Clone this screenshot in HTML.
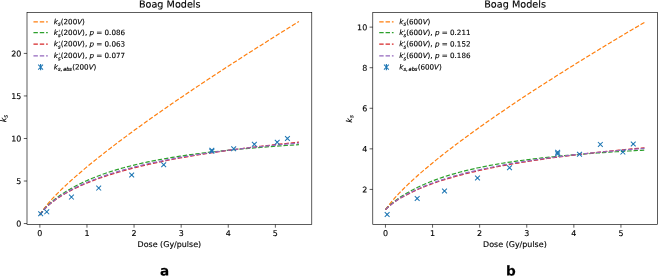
<!DOCTYPE html>
<html><head><meta charset="utf-8"><title>Boag Models</title>
<style>
html,body{margin:0;padding:0;background:#fff;}
svg{display:block;}
svg text{font-family:"DejaVu Sans","Liberation Sans",sans-serif;fill:#000;white-space:pre;text-rendering:geometricPrecision;stroke:#000;stroke-width:0.13px;}
</style></head><body>
<svg width="658" height="276" viewBox="0 0 658 276">
<rect width="658" height="276" fill="#fff"/>
<polyline points="39.91,214.96 40.11,214.60 40.47,213.96 40.94,213.17 41.50,212.28 42.14,211.32 42.84,210.30 43.60,209.23 44.42,208.13 45.29,207.00 46.22,205.84 47.19,204.65 48.20,203.44 49.26,202.21 50.36,200.96 51.50,199.70 52.68,198.41 53.89,197.12 55.14,195.81 56.43,194.48 57.75,193.14 59.11,191.79 60.50,190.42 61.91,189.04 63.37,187.66 64.85,186.26 66.36,184.84 67.90,183.42 69.47,181.99 71.07,180.55 72.69,179.09 74.34,177.63 76.02,176.16 77.73,174.67 79.46,173.18 81.22,171.68 83.00,170.17 84.81,168.65 86.64,167.13 88.50,165.59 90.38,164.05 92.29,162.49 94.21,160.93 96.17,159.36 98.14,157.79 100.14,156.20 102.15,154.61 104.20,153.01 106.26,151.40 108.34,149.79 110.45,148.16 112.57,146.53 114.72,144.90 116.89,143.25 119.08,141.60 121.29,139.94 123.52,138.28 125.77,136.61 128.04,134.93 130.33,133.24 132.64,131.55 134.96,129.85 137.31,128.14 139.68,126.43 142.06,124.71 144.46,122.99 146.89,121.26 149.33,119.52 151.79,117.78 154.26,116.03 156.76,114.27 159.27,112.51 161.80,110.74 164.35,108.97 166.92,107.19 169.50,105.40 172.10,103.61 174.72,101.81 177.35,100.01 180.00,98.20 182.67,96.39 185.36,94.57 188.06,92.74 190.78,90.91 193.51,89.07 196.26,87.23 199.03,85.38 201.81,83.53 204.61,81.67 207.43,79.81 210.26,77.94 213.11,76.07 215.97,74.19 218.85,72.30 221.74,70.41 224.65,68.52 227.58,66.62 230.52,64.71 233.47,62.80 236.44,60.89 239.43,58.97 242.43,57.04 245.44,55.11 248.47,53.18 251.52,51.24 254.58,49.29 257.65,47.34 260.74,45.39 263.84,43.43 266.96,41.47 270.09,39.50 273.24,37.53 276.40,35.55 279.57,33.57 282.76,31.58 285.96,29.59 289.18,27.59 292.41,25.59 295.65,23.59 298.91,21.58" fill="none" stroke="#ff7f0e" stroke-width="1.19" stroke-dasharray="4.42 1.91"/>
<polyline points="39.91,214.96 40.11,214.64 40.47,214.06 40.94,213.35 41.50,212.55 42.14,211.69 42.84,210.79 43.60,209.86 44.42,208.91 45.29,207.94 46.22,206.96 47.19,205.98 48.20,204.98 49.26,203.98 50.36,202.98 51.50,201.98 52.68,200.99 53.89,199.99 55.14,199.00 56.43,198.01 57.75,197.02 59.11,196.04 60.50,195.07 61.91,194.10 63.37,193.14 64.85,192.19 66.36,191.25 67.90,190.31 69.47,189.39 71.07,188.47 72.69,187.56 74.34,186.66 76.02,185.78 77.73,184.90 79.46,184.03 81.22,183.18 83.00,182.33 84.81,181.49 86.64,180.67 88.50,179.86 90.38,179.06 92.29,178.26 94.21,177.49 96.17,176.72 98.14,175.96 100.14,175.22 102.15,174.48 104.20,173.76 106.26,173.05 108.34,172.35 110.45,171.66 112.57,170.99 114.72,170.32 116.89,169.67 119.08,169.03 121.29,168.39 123.52,167.77 125.77,167.16 128.04,166.56 130.33,165.97 132.64,165.39 134.96,164.83 137.31,164.27 139.68,163.72 142.06,163.18 144.46,162.65 146.89,162.13 149.33,161.62 151.79,161.12 154.26,160.63 156.76,160.15 159.27,159.68 161.80,159.22 164.35,158.76 166.92,158.31 169.50,157.87 172.10,157.44 174.72,157.02 177.35,156.61 180.00,156.20 182.67,155.80 185.36,155.41 188.06,155.02 190.78,154.64 193.51,154.27 196.26,153.91 199.03,153.55 201.81,153.20 204.61,152.85 207.43,152.51 210.26,152.18 213.11,151.85 215.97,151.53 218.85,151.22 221.74,150.91 224.65,150.60 227.58,150.30 230.52,150.01 233.47,149.72 236.44,149.44 239.43,149.16 242.43,148.89 245.44,148.62 248.47,148.35 251.52,148.09 254.58,147.84 257.65,147.59 260.74,147.34 263.84,147.10 266.96,146.86 270.09,146.62 273.24,146.39 276.40,146.16 279.57,145.94 282.76,145.72 285.96,145.50 289.18,145.29 292.41,145.08 295.65,144.88 298.91,144.67" fill="none" stroke="#2ca02c" stroke-width="1.19" stroke-dasharray="4.42 1.91"/>
<polyline points="39.91,214.97 40.11,214.65 40.47,214.10 40.94,213.42 41.50,212.65 42.14,211.84 42.84,210.99 43.60,210.11 44.42,209.21 45.29,208.30 46.22,207.38 47.19,206.45 48.20,205.53 49.26,204.60 50.36,203.67 51.50,202.75 52.68,201.82 53.89,200.91 55.14,199.99 56.43,199.08 57.75,198.18 59.11,197.29 60.50,196.39 61.91,195.51 63.37,194.64 64.85,193.77 66.36,192.90 67.90,192.05 69.47,191.20 71.07,190.37 72.69,189.53 74.34,188.71 76.02,187.90 77.73,187.09 79.46,186.29 81.22,185.50 83.00,184.72 84.81,183.95 86.64,183.18 88.50,182.42 90.38,181.67 92.29,180.93 94.21,180.19 96.17,179.47 98.14,178.75 100.14,178.04 102.15,177.34 104.20,176.64 106.26,175.95 108.34,175.27 110.45,174.60 112.57,173.94 114.72,173.28 116.89,172.63 119.08,171.98 121.29,171.35 123.52,170.72 125.77,170.10 128.04,169.48 130.33,168.87 132.64,168.27 134.96,167.68 137.31,167.09 139.68,166.51 142.06,165.93 144.46,165.36 146.89,164.80 149.33,164.24 151.79,163.69 154.26,163.15 156.76,162.61 159.27,162.08 161.80,161.55 164.35,161.03 166.92,160.51 169.50,160.00 172.10,159.50 174.72,159.00 177.35,158.51 180.00,158.02 182.67,157.54 185.36,157.06 188.06,156.59 190.78,156.12 193.51,155.66 196.26,155.20 199.03,154.75 201.81,154.30 204.61,153.86 207.43,153.42 210.26,152.99 213.11,152.56 215.97,152.13 218.85,151.71 221.74,151.30 224.65,150.89 227.58,150.48 230.52,150.08 233.47,149.68 236.44,149.28 239.43,148.89 242.43,148.51 245.44,148.12 248.47,147.75 251.52,147.37 254.58,147.00 257.65,146.63 260.74,146.27 263.84,145.91 266.96,145.55 270.09,145.20 273.24,144.85 276.40,144.51 279.57,144.16 282.76,143.83 285.96,143.49 289.18,143.16 292.41,142.83 295.65,142.50 298.91,142.18" fill="none" stroke="#d62728" stroke-width="1.19" stroke-dasharray="4.42 1.91"/>
<polyline points="39.91,214.97 40.11,214.65 40.47,214.09 40.94,213.40 41.50,212.63 42.14,211.80 42.84,210.94 43.60,210.05 44.42,209.14 45.29,208.21 46.22,207.28 47.19,206.34 48.20,205.39 49.26,204.45 50.36,203.50 51.50,202.56 52.68,201.62 53.89,200.68 55.14,199.75 56.43,198.82 57.75,197.90 59.11,196.98 60.50,196.07 61.91,195.17 63.37,194.27 64.85,193.38 66.36,192.50 67.90,191.62 69.47,190.75 71.07,189.89 72.69,189.04 74.34,188.20 76.02,187.36 77.73,186.54 79.46,185.72 81.22,184.91 83.00,184.11 84.81,183.32 86.64,182.54 88.50,181.76 90.38,180.99 92.29,180.24 94.21,179.49 96.17,178.75 98.14,178.02 100.14,177.29 102.15,176.58 104.20,175.87 106.26,175.17 108.34,174.48 110.45,173.80 112.57,173.13 114.72,172.47 116.89,171.81 119.08,171.16 121.29,170.52 123.52,169.89 125.77,169.27 128.04,168.65 130.33,168.04 132.64,167.44 134.96,166.85 137.31,166.26 139.68,165.68 142.06,165.11 144.46,164.55 146.89,163.99 149.33,163.45 151.79,162.91 154.26,162.37 156.76,161.84 159.27,161.32 161.80,160.81 164.35,160.30 166.92,159.80 169.50,159.31 172.10,158.82 174.72,158.34 177.35,157.87 180.00,157.40 182.67,156.94 185.36,156.49 188.06,156.04 190.78,155.60 193.51,155.16 196.26,154.73 199.03,154.30 201.81,153.88 204.61,153.47 207.43,153.06 210.26,152.66 213.11,152.26 215.97,151.87 218.85,151.48 221.74,151.10 224.65,150.73 227.58,150.36 230.52,149.99 233.47,149.63 236.44,149.27 239.43,148.92 242.43,148.57 245.44,148.23 248.47,147.89 251.52,147.56 254.58,147.23 257.65,146.91 260.74,146.59 263.84,146.27 266.96,145.96 270.09,145.66 273.24,145.35 276.40,145.06 279.57,144.76 282.76,144.47 285.96,144.18 289.18,143.90 292.41,143.62 295.65,143.34 298.91,143.07" fill="none" stroke="#9467bd" stroke-width="1.19" stroke-dasharray="4.42 1.91"/>
<line x1="40.65" y1="213.00" x2="40.65" y2="214.40" stroke="#1f77b4" stroke-width="1.19"/>
<path d="M38.25 211.30l4.80 4.80m0 -4.80l-4.80 4.80" stroke="#1f77b4" stroke-width="1.05" fill="none"/>
<line x1="46.75" y1="211.15" x2="46.75" y2="212.55" stroke="#1f77b4" stroke-width="1.19"/>
<path d="M44.35 209.45l4.80 4.80m0 -4.80l-4.80 4.80" stroke="#1f77b4" stroke-width="1.05" fill="none"/>
<line x1="71.45" y1="196.40" x2="71.45" y2="197.80" stroke="#1f77b4" stroke-width="1.19"/>
<path d="M69.05 194.70l4.80 4.80m0 -4.80l-4.80 4.80" stroke="#1f77b4" stroke-width="1.05" fill="none"/>
<line x1="98.70" y1="187.40" x2="98.70" y2="188.80" stroke="#1f77b4" stroke-width="1.19"/>
<path d="M96.30 185.70l4.80 4.80m0 -4.80l-4.80 4.80" stroke="#1f77b4" stroke-width="1.05" fill="none"/>
<line x1="131.70" y1="174.25" x2="131.70" y2="175.65" stroke="#1f77b4" stroke-width="1.19"/>
<path d="M129.30 172.55l4.80 4.80m0 -4.80l-4.80 4.80" stroke="#1f77b4" stroke-width="1.05" fill="none"/>
<line x1="163.70" y1="164.10" x2="163.70" y2="165.50" stroke="#1f77b4" stroke-width="1.19"/>
<path d="M161.30 162.40l4.80 4.80m0 -4.80l-4.80 4.80" stroke="#1f77b4" stroke-width="1.05" fill="none"/>
<line x1="211.85" y1="149.60" x2="211.85" y2="151.00" stroke="#1f77b4" stroke-width="1.19"/>
<path d="M209.45 147.90l4.80 4.80m0 -4.80l-4.80 4.80" stroke="#1f77b4" stroke-width="1.05" fill="none"/>
<line x1="211.85" y1="150.60" x2="211.85" y2="152.00" stroke="#1f77b4" stroke-width="1.19"/>
<path d="M209.45 148.90l4.80 4.80m0 -4.80l-4.80 4.80" stroke="#1f77b4" stroke-width="1.05" fill="none"/>
<line x1="233.70" y1="148.00" x2="233.70" y2="149.40" stroke="#1f77b4" stroke-width="1.19"/>
<path d="M231.30 146.30l4.80 4.80m0 -4.80l-4.80 4.80" stroke="#1f77b4" stroke-width="1.05" fill="none"/>
<line x1="254.35" y1="143.60" x2="254.35" y2="145.00" stroke="#1f77b4" stroke-width="1.19"/>
<path d="M251.95 141.90l4.80 4.80m0 -4.80l-4.80 4.80" stroke="#1f77b4" stroke-width="1.05" fill="none"/>
<line x1="277.20" y1="141.60" x2="277.20" y2="143.00" stroke="#1f77b4" stroke-width="1.19"/>
<path d="M274.80 139.90l4.80 4.80m0 -4.80l-4.80 4.80" stroke="#1f77b4" stroke-width="1.05" fill="none"/>
<line x1="287.45" y1="137.80" x2="287.45" y2="139.20" stroke="#1f77b4" stroke-width="1.19"/>
<path d="M285.05 136.10l4.80 4.80m0 -4.80l-4.80 4.80" stroke="#1f77b4" stroke-width="1.05" fill="none"/>
<rect x="27.00" y="12.50" width="284.78" height="212.00" fill="none" stroke="#000" stroke-width="0.64"/>
<line x1="39.86" y1="224.50" x2="39.86" y2="227.70" stroke="#000" stroke-width="0.64"/>
<text transform="translate(39.86 235.97) rotate(0.05)" font-size="7.96" text-anchor="middle">0</text>
<line x1="86.96" y1="224.50" x2="86.96" y2="227.70" stroke="#000" stroke-width="0.64"/>
<text transform="translate(86.96 235.97) rotate(0.05)" font-size="7.96" text-anchor="middle">1</text>
<line x1="134.06" y1="224.50" x2="134.06" y2="227.70" stroke="#000" stroke-width="0.64"/>
<text transform="translate(134.06 235.97) rotate(0.05)" font-size="7.96" text-anchor="middle">2</text>
<line x1="181.16" y1="224.50" x2="181.16" y2="227.70" stroke="#000" stroke-width="0.64"/>
<text transform="translate(181.16 235.97) rotate(0.05)" font-size="7.96" text-anchor="middle">3</text>
<line x1="228.26" y1="224.50" x2="228.26" y2="227.70" stroke="#000" stroke-width="0.64"/>
<text transform="translate(228.26 235.97) rotate(0.05)" font-size="7.96" text-anchor="middle">4</text>
<line x1="275.36" y1="224.50" x2="275.36" y2="227.70" stroke="#000" stroke-width="0.64"/>
<text transform="translate(275.36 235.97) rotate(0.05)" font-size="7.96" text-anchor="middle">5</text>
<line x1="23.80" y1="223.55" x2="27.00" y2="223.55" stroke="#000" stroke-width="0.64"/>
<text transform="translate(21.43 226.57) rotate(0.05)" font-size="7.96" text-anchor="end">0</text>
<line x1="23.80" y1="181.02" x2="27.00" y2="181.02" stroke="#000" stroke-width="0.64"/>
<text transform="translate(21.43 184.04) rotate(0.05)" font-size="7.96" text-anchor="end">5</text>
<line x1="23.80" y1="138.49" x2="27.00" y2="138.49" stroke="#000" stroke-width="0.64"/>
<text transform="translate(21.43 141.51) rotate(0.05)" font-size="7.96" text-anchor="end">10</text>
<line x1="23.80" y1="95.95" x2="27.00" y2="95.95" stroke="#000" stroke-width="0.64"/>
<text transform="translate(21.43 98.98) rotate(0.05)" font-size="7.96" text-anchor="end">15</text>
<line x1="23.80" y1="53.42" x2="27.00" y2="53.42" stroke="#000" stroke-width="0.64"/>
<text transform="translate(21.43 56.44) rotate(0.05)" font-size="7.96" text-anchor="end">20</text>
<text transform="translate(169.74 7.53) rotate(0.05)" font-size="9.66" text-anchor="middle">Boag Models</text>
<text transform="translate(169.39 247.00) rotate(0.05)" font-size="7.96" text-anchor="middle">Dose (Gy/pulse)</text>
<g transform="translate(6.46 122.29) rotate(-89.95)"><text font-style="oblique"><tspan x="0" y="-0.32" font-size="7.96">k</tspan><tspan x="4.61" y="0.98" font-size="5.57">s</tspan></text></g>
<rect x="30.58" y="16.08" width="97.09" height="57.21" rx="1.43" fill="#fff" fill-opacity="0.8" stroke="#ccc" stroke-opacity="0.00" stroke-width="0.80"/>
<line x1="33.45" y1="21.83" x2="47.77" y2="21.83" stroke="#ff7f0e" stroke-width="1.19" stroke-dasharray="4.42 1.91"/>
<g transform="translate(53.80 24.24) rotate(0.05)"><text font-size="7.16"><tspan x="0.00" y="-0.12" font-style="oblique">k</tspan><tspan x="4.15" y="1.30" font-size="5.01" font-style="oblique" stroke-width="0.22">s</tspan><tspan x="6.96" y="-0.12">(200</tspan><tspan x="23.42" y="-0.12" font-style="oblique">V</tspan><tspan x="28.32" y="-0.12">)</tspan></text></g>
<line x1="33.45" y1="32.69" x2="47.77" y2="32.69" stroke="#2ca02c" stroke-width="1.19" stroke-dasharray="4.42 1.91"/>
<g transform="translate(53.80 34.93) rotate(0.05)"><text font-size="7.16"><tspan x="0.00" y="-0.03" font-style="oblique">k</tspan><tspan x="4.15" y="2.18" font-size="5.01" font-style="oblique" stroke-width="0.22">s</tspan><tspan stroke="none" fill-opacity="0.85" x="4.42" y="-0.03" font-size="7.16" font-style="oblique">'</tspan><tspan x="6.96" y="-0.03">(200</tspan><tspan x="23.42" y="-0.03" font-style="oblique">V</tspan><tspan x="28.32" y="-0.03">),</tspan><tspan x="35.67" y="-0.03" font-style="oblique">p</tspan><tspan x="42.49" y="-0.03">=</tspan><tspan x="50.77" y="-0.03">0.086</tspan></text></g>
<line x1="33.45" y1="44.13" x2="47.77" y2="44.13" stroke="#d62728" stroke-width="1.19" stroke-dasharray="4.42 1.91"/>
<g transform="translate(53.80 46.36) rotate(0.05)"><text font-size="7.16"><tspan x="0.00" y="-0.03" font-style="oblique">k</tspan><tspan x="4.15" y="2.18" font-size="5.01" font-style="oblique" stroke-width="0.22">s</tspan><tspan stroke="none" fill-opacity="0.85" x="4.42" y="-0.03" font-size="7.16" font-style="oblique">'</tspan><tspan x="6.96" y="-0.03">(200</tspan><tspan x="23.42" y="-0.03" font-style="oblique">V</tspan><tspan x="28.32" y="-0.03">),</tspan><tspan x="35.67" y="-0.03" font-style="oblique">p</tspan><tspan x="42.49" y="-0.03">=</tspan><tspan x="50.77" y="-0.03">0.063</tspan></text></g>
<line x1="33.45" y1="55.78" x2="47.77" y2="55.78" stroke="#9467bd" stroke-width="1.19" stroke-dasharray="4.42 1.91"/>
<g transform="translate(53.80 58.03) rotate(0.05)"><text font-size="7.16"><tspan x="0.00" y="-0.03" font-style="oblique">k</tspan><tspan x="4.15" y="2.18" font-size="5.01" font-style="oblique" stroke-width="0.22">s</tspan><tspan stroke="none" fill-opacity="0.85" x="4.42" y="-0.03" font-size="7.16" font-style="oblique">'</tspan><tspan x="6.96" y="-0.03">(200</tspan><tspan x="23.42" y="-0.03" font-style="oblique">V</tspan><tspan x="28.32" y="-0.03">),</tspan><tspan x="35.67" y="-0.03" font-style="oblique">p</tspan><tspan x="42.49" y="-0.03">=</tspan><tspan x="50.77" y="-0.03">0.077</tspan></text></g>
<line x1="40.61" y1="63.93" x2="40.61" y2="70.33" stroke="#1f77b4" stroke-width="1.19"/>
<path d="M38.21 64.73l4.80 4.80m0 -4.80l-4.80 4.80" stroke="#1f77b4" stroke-width="1.05" fill="none"/>
<g transform="translate(53.80 69.53) rotate(0.05)"><text font-size="7.16"><tspan x="0.00" y="-0.12" font-style="oblique">k</tspan><tspan x="4.15" y="1.30" font-size="5.01" font-style="oblique" stroke-width="0.22">s</tspan><tspan x="6.76" y="1.30" font-size="5.01" stroke-width="0.22">,</tspan><tspan x="9.33" y="1.30" font-size="5.01" font-style="oblique" stroke-width="0.22">abs</tspan><tspan x="18.39" y="-0.12">(200</tspan><tspan x="34.86" y="-0.12" font-style="oblique">V</tspan><tspan x="39.76" y="-0.12">)</tspan></text></g>
<text transform="translate(164.55 275.55) rotate(0.05)" font-size="13.60" font-weight="bold" font-family="Liberation Sans, sans-serif" text-anchor="middle" stroke="none">a</text>
<polyline points="385.50,209.64 385.70,209.35 386.06,208.82 386.53,208.16 387.09,207.39 387.73,206.53 388.43,205.61 389.19,204.63 390.01,203.60 390.88,202.53 391.81,201.42 392.78,200.27 393.79,199.10 394.85,197.91 395.95,196.69 397.09,195.45 398.27,194.18 399.48,192.90 400.73,191.61 402.02,190.30 403.34,188.97 404.70,187.63 406.09,186.27 407.50,184.91 408.96,183.53 410.44,182.14 411.95,180.74 413.49,179.32 415.06,177.90 416.66,176.47 418.28,175.03 419.93,173.58 421.61,172.12 423.32,170.65 425.05,169.17 426.81,167.68 428.59,166.19 430.40,164.69 432.23,163.18 434.09,161.66 435.97,160.13 437.88,158.60 439.80,157.06 441.76,155.52 443.73,153.96 445.73,152.40 447.74,150.84 449.79,149.26 451.85,147.68 453.93,146.10 456.04,144.50 458.16,142.90 460.31,141.30 462.48,139.69 464.67,138.07 466.88,136.45 469.11,134.82 471.36,133.18 473.63,131.54 475.92,129.90 478.23,128.24 480.55,126.59 482.90,124.92 485.27,123.26 487.65,121.58 490.05,119.90 492.48,118.22 494.92,116.53 497.38,114.83 499.85,113.13 502.35,111.43 504.86,109.72 507.39,108.00 509.94,106.28 512.51,104.56 515.09,102.83 517.69,101.09 520.31,99.35 522.94,97.61 525.59,95.86 528.26,94.11 530.95,92.35 533.65,90.58 536.37,88.82 539.10,87.04 541.85,85.27 544.62,83.49 547.40,81.70 550.20,79.91 553.02,78.11 555.85,76.32 558.70,74.51 561.56,72.70 564.44,70.89 567.33,69.08 570.24,67.25 573.17,65.43 576.11,63.60 579.06,61.77 582.03,59.93 585.02,58.09 588.02,56.24 591.03,54.39 594.06,52.54 597.11,50.68 600.17,48.82 603.24,46.95 606.33,45.08 609.43,43.21 612.55,41.33 615.68,39.45 618.83,37.56 621.99,35.67 625.16,33.78 628.35,31.88 631.55,29.98 634.77,28.08 638.00,26.17 641.24,24.26 644.50,22.34" fill="none" stroke="#ff7f0e" stroke-width="1.19" stroke-dasharray="4.42 1.91"/>
<polyline points="385.50,209.65 385.70,209.43 386.06,209.02 386.53,208.51 387.09,207.92 387.73,207.28 388.43,206.58 389.19,205.85 390.01,205.09 390.88,204.31 391.81,203.51 392.78,202.69 393.79,201.87 394.85,201.04 395.95,200.20 397.09,199.36 398.27,198.52 399.48,197.68 400.73,196.84 402.02,196.01 403.34,195.17 404.70,194.35 406.09,193.52 407.50,192.71 408.96,191.90 410.44,191.07 411.95,190.25 413.49,189.43 415.06,188.62 416.66,187.82 418.28,187.03 419.93,186.25 421.61,185.47 423.32,184.71 425.05,183.95 426.81,183.21 428.59,182.47 430.40,181.74 432.23,181.03 434.09,180.32 435.97,179.62 437.88,178.94 439.80,178.26 441.76,177.59 443.73,176.94 445.73,176.29 447.74,175.66 449.79,175.03 451.85,174.41 453.93,173.81 456.04,173.21 458.16,172.63 460.31,172.05 462.48,171.49 464.67,170.93 466.88,170.38 469.11,169.85 471.36,169.32 473.63,168.80 475.92,168.29 478.23,167.79 480.55,167.30 482.90,166.82 485.27,166.35 487.65,165.88 490.05,165.43 492.48,164.98 494.92,164.54 497.38,164.11 499.85,163.69 502.35,163.28 504.86,162.87 507.39,162.47 509.94,162.08 512.51,161.70 515.09,161.32 517.69,160.95 520.31,160.59 522.94,160.23 525.59,159.88 528.26,159.54 530.95,159.21 533.65,158.88 536.37,158.55 539.10,158.24 541.85,157.93 544.62,157.62 547.40,157.32 550.20,157.03 553.02,156.74 555.85,156.46 558.70,156.18 561.56,155.91 564.44,155.64 567.33,155.38 570.24,155.12 573.17,154.87 576.11,154.62 579.06,154.38 582.03,154.14 585.02,153.91 588.02,153.68 591.03,153.45 594.06,153.23 597.11,153.01 600.17,152.80 603.24,152.59 606.33,152.38 609.43,152.18 612.55,151.98 615.68,151.78 618.83,151.59 621.99,151.40 625.16,151.21 628.35,151.03 631.55,150.85 634.77,150.67 638.00,150.50 641.24,150.33 644.50,150.16" fill="none" stroke="#2ca02c" stroke-width="1.19" stroke-dasharray="4.42 1.91"/>
<polyline points="385.50,209.66 385.70,209.45 386.06,209.09 386.53,208.62 387.09,208.09 387.73,207.50 388.43,206.87 389.19,206.21 390.01,205.52 390.88,204.81 391.81,204.09 392.78,203.36 393.79,202.61 394.85,201.87 395.95,201.11 397.09,200.36 398.27,199.61 399.48,198.85 400.73,198.10 402.02,197.35 403.34,196.61 404.70,195.87 406.09,195.13 407.50,194.40 408.96,193.67 410.44,192.93 411.95,192.18 413.49,191.45 415.06,190.71 416.66,189.99 418.28,189.27 419.93,188.56 421.61,187.85 423.32,187.15 425.05,186.46 426.81,185.78 428.59,185.10 430.40,184.42 432.23,183.76 434.09,183.10 435.97,182.45 437.88,181.80 439.80,181.16 441.76,180.53 443.73,179.91 445.73,179.29 447.74,178.68 449.79,178.07 451.85,177.47 453.93,176.88 456.04,176.30 458.16,175.72 460.31,175.14 462.48,174.57 464.67,174.01 466.88,173.46 469.11,172.91 471.36,172.37 473.63,171.83 475.92,171.30 478.23,170.77 480.55,170.25 482.90,169.74 485.27,169.23 487.65,168.73 490.05,168.23 492.48,167.73 494.92,167.25 497.38,166.77 499.85,166.29 502.35,165.82 504.86,165.35 507.39,164.89 509.94,164.43 512.51,163.98 515.09,163.53 517.69,163.09 520.31,162.65 522.94,162.22 525.59,161.79 528.26,161.37 530.95,160.95 533.65,160.53 536.37,160.12 539.10,159.71 541.85,159.31 544.62,158.91 547.40,158.52 550.20,158.13 553.02,157.74 555.85,157.36 558.70,156.98 561.56,156.61 564.44,156.24 567.33,155.87 570.24,155.50 573.17,155.15 576.11,154.79 579.06,154.44 582.03,154.09 585.02,153.74 588.02,153.40 591.03,153.06 594.06,152.73 597.11,152.39 600.17,152.06 603.24,151.74 606.33,151.42 609.43,151.10 612.55,150.78 615.68,150.47 618.83,150.16 621.99,149.85 625.16,149.54 628.35,149.24 631.55,148.94 634.77,148.65 638.00,148.36 641.24,148.07 644.50,147.78" fill="none" stroke="#d62728" stroke-width="1.19" stroke-dasharray="4.42 1.91"/>
<polyline points="385.50,209.66 385.70,209.45 386.06,209.07 386.53,208.60 387.09,208.05 387.73,207.45 388.43,206.81 389.19,206.13 390.01,205.43 390.88,204.70 391.81,203.96 392.78,203.21 393.79,202.45 394.85,201.68 395.95,200.91 397.09,200.14 398.27,199.37 399.48,198.60 400.73,197.82 402.02,197.06 403.34,196.29 404.70,195.53 406.09,194.77 407.50,194.02 408.96,193.28 410.44,192.51 411.95,191.75 413.49,190.99 415.06,190.25 416.66,189.50 418.28,188.77 419.93,188.04 421.61,187.31 423.32,186.60 425.05,185.89 426.81,185.19 428.59,184.49 430.40,183.81 432.23,183.13 434.09,182.46 435.97,181.79 437.88,181.13 439.80,180.48 441.76,179.84 443.73,179.21 445.73,178.58 447.74,177.96 449.79,177.34 451.85,176.74 453.93,176.14 456.04,175.54 458.16,174.96 460.31,174.38 462.48,173.81 464.67,173.25 466.88,172.69 469.11,172.14 471.36,171.59 473.63,171.06 475.92,170.53 478.23,170.00 480.55,169.48 482.90,168.97 485.27,168.47 487.65,167.97 490.05,167.48 492.48,166.99 494.92,166.51 497.38,166.04 499.85,165.57 502.35,165.11 504.86,164.65 507.39,164.20 509.94,163.76 512.51,163.32 515.09,162.88 517.69,162.46 520.31,162.03 522.94,161.62 525.59,161.20 528.26,160.80 530.95,160.40 533.65,160.00 536.37,159.61 539.10,159.22 541.85,158.84 544.62,158.47 547.40,158.10 550.20,157.73 553.02,157.37 555.85,157.01 558.70,156.66 561.56,156.31 564.44,155.97 567.33,155.63 570.24,155.29 573.17,154.96 576.11,154.64 579.06,154.32 582.03,154.00 585.02,153.69 588.02,153.38 591.03,153.07 594.06,152.77 597.11,152.47 600.17,152.18 603.24,151.89 606.33,151.60 609.43,151.32 612.55,151.04 615.68,150.77 618.83,150.49 621.99,150.23 625.16,149.96 628.35,149.70 631.55,149.44 634.77,149.19 638.00,148.93 641.24,148.69 644.50,148.44" fill="none" stroke="#9467bd" stroke-width="1.19" stroke-dasharray="4.42 1.91"/>
<line x1="387.15" y1="213.80" x2="387.15" y2="215.20" stroke="#1f77b4" stroke-width="1.19"/>
<path d="M384.75 212.10l4.80 4.80m0 -4.80l-4.80 4.80" stroke="#1f77b4" stroke-width="1.05" fill="none"/>
<line x1="417.20" y1="197.80" x2="417.20" y2="199.20" stroke="#1f77b4" stroke-width="1.19"/>
<path d="M414.80 196.10l4.80 4.80m0 -4.80l-4.80 4.80" stroke="#1f77b4" stroke-width="1.05" fill="none"/>
<line x1="444.50" y1="190.30" x2="444.50" y2="191.70" stroke="#1f77b4" stroke-width="1.19"/>
<path d="M442.10 188.60l4.80 4.80m0 -4.80l-4.80 4.80" stroke="#1f77b4" stroke-width="1.05" fill="none"/>
<line x1="477.50" y1="177.30" x2="477.50" y2="178.70" stroke="#1f77b4" stroke-width="1.19"/>
<path d="M475.10 175.60l4.80 4.80m0 -4.80l-4.80 4.80" stroke="#1f77b4" stroke-width="1.05" fill="none"/>
<line x1="509.50" y1="167.10" x2="509.50" y2="168.50" stroke="#1f77b4" stroke-width="1.19"/>
<path d="M507.10 165.40l4.80 4.80m0 -4.80l-4.80 4.80" stroke="#1f77b4" stroke-width="1.05" fill="none"/>
<line x1="557.65" y1="151.50" x2="557.65" y2="152.90" stroke="#1f77b4" stroke-width="1.19"/>
<path d="M555.25 149.80l4.80 4.80m0 -4.80l-4.80 4.80" stroke="#1f77b4" stroke-width="1.05" fill="none"/>
<line x1="557.65" y1="153.00" x2="557.65" y2="154.40" stroke="#1f77b4" stroke-width="1.19"/>
<path d="M555.25 151.30l4.80 4.80m0 -4.80l-4.80 4.80" stroke="#1f77b4" stroke-width="1.05" fill="none"/>
<line x1="579.50" y1="153.60" x2="579.50" y2="155.00" stroke="#1f77b4" stroke-width="1.19"/>
<path d="M577.10 151.90l4.80 4.80m0 -4.80l-4.80 4.80" stroke="#1f77b4" stroke-width="1.05" fill="none"/>
<line x1="600.35" y1="143.70" x2="600.35" y2="145.10" stroke="#1f77b4" stroke-width="1.19"/>
<path d="M597.95 142.00l4.80 4.80m0 -4.80l-4.80 4.80" stroke="#1f77b4" stroke-width="1.05" fill="none"/>
<line x1="622.85" y1="151.40" x2="622.85" y2="152.80" stroke="#1f77b4" stroke-width="1.19"/>
<path d="M620.45 149.70l4.80 4.80m0 -4.80l-4.80 4.80" stroke="#1f77b4" stroke-width="1.05" fill="none"/>
<line x1="633.25" y1="143.30" x2="633.25" y2="144.70" stroke="#1f77b4" stroke-width="1.19"/>
<path d="M630.85 141.60l4.80 4.80m0 -4.80l-4.80 4.80" stroke="#1f77b4" stroke-width="1.05" fill="none"/>
<rect x="372.78" y="12.50" width="284.78" height="212.00" fill="none" stroke="#000" stroke-width="0.64"/>
<line x1="385.45" y1="224.50" x2="385.45" y2="227.70" stroke="#000" stroke-width="0.64"/>
<text transform="translate(385.45 235.97) rotate(0.05)" font-size="7.96" text-anchor="middle">0</text>
<line x1="432.55" y1="224.50" x2="432.55" y2="227.70" stroke="#000" stroke-width="0.64"/>
<text transform="translate(432.55 235.97) rotate(0.05)" font-size="7.96" text-anchor="middle">1</text>
<line x1="479.65" y1="224.50" x2="479.65" y2="227.70" stroke="#000" stroke-width="0.64"/>
<text transform="translate(479.65 235.97) rotate(0.05)" font-size="7.96" text-anchor="middle">2</text>
<line x1="526.75" y1="224.50" x2="526.75" y2="227.70" stroke="#000" stroke-width="0.64"/>
<text transform="translate(526.75 235.97) rotate(0.05)" font-size="7.96" text-anchor="middle">3</text>
<line x1="573.85" y1="224.50" x2="573.85" y2="227.70" stroke="#000" stroke-width="0.64"/>
<text transform="translate(573.85 235.97) rotate(0.05)" font-size="7.96" text-anchor="middle">4</text>
<line x1="620.95" y1="224.50" x2="620.95" y2="227.70" stroke="#000" stroke-width="0.64"/>
<text transform="translate(620.95 235.97) rotate(0.05)" font-size="7.96" text-anchor="middle">5</text>
<line x1="369.58" y1="189.42" x2="372.78" y2="189.42" stroke="#000" stroke-width="0.64"/>
<text transform="translate(367.21 192.44) rotate(0.05)" font-size="7.96" text-anchor="end">2</text>
<line x1="369.58" y1="148.85" x2="372.78" y2="148.85" stroke="#000" stroke-width="0.64"/>
<text transform="translate(367.21 151.87) rotate(0.05)" font-size="7.96" text-anchor="end">4</text>
<line x1="369.58" y1="108.28" x2="372.78" y2="108.28" stroke="#000" stroke-width="0.64"/>
<text transform="translate(367.21 111.30) rotate(0.05)" font-size="7.96" text-anchor="end">6</text>
<line x1="369.58" y1="67.71" x2="372.78" y2="67.71" stroke="#000" stroke-width="0.64"/>
<text transform="translate(367.21 70.73) rotate(0.05)" font-size="7.96" text-anchor="end">8</text>
<line x1="369.58" y1="27.14" x2="372.78" y2="27.14" stroke="#000" stroke-width="0.64"/>
<text transform="translate(367.21 30.16) rotate(0.05)" font-size="7.96" text-anchor="end">10</text>
<text transform="translate(515.07 7.53) rotate(0.05)" font-size="9.66" text-anchor="middle">Boag Models</text>
<text transform="translate(514.92 247.00) rotate(0.05)" font-size="7.96" text-anchor="middle">Dose (Gy/pulse)</text>
<g transform="translate(352.24 122.69) rotate(-89.95)"><text font-style="oblique"><tspan x="0" y="-0.32" font-size="7.96">k</tspan><tspan x="4.61" y="0.98" font-size="5.57">s</tspan></text></g>
<rect x="376.36" y="16.08" width="97.09" height="57.21" rx="1.43" fill="#fff" fill-opacity="0.8" stroke="#ccc" stroke-opacity="0.00" stroke-width="0.80"/>
<line x1="379.23" y1="21.83" x2="393.55" y2="21.83" stroke="#ff7f0e" stroke-width="1.19" stroke-dasharray="4.42 1.91"/>
<g transform="translate(399.25 24.24) rotate(0.05)"><text font-size="7.16"><tspan x="0.00" y="-0.12" font-style="oblique">k</tspan><tspan x="4.15" y="1.30" font-size="5.01" font-style="oblique" stroke-width="0.22">s</tspan><tspan x="6.96" y="-0.12">(600</tspan><tspan x="23.42" y="-0.12" font-style="oblique">V</tspan><tspan x="28.32" y="-0.12">)</tspan></text></g>
<line x1="379.23" y1="32.69" x2="393.55" y2="32.69" stroke="#2ca02c" stroke-width="1.19" stroke-dasharray="4.42 1.91"/>
<g transform="translate(399.25 34.93) rotate(0.05)"><text font-size="7.16"><tspan x="0.00" y="-0.03" font-style="oblique">k</tspan><tspan x="4.15" y="2.18" font-size="5.01" font-style="oblique" stroke-width="0.22">s</tspan><tspan stroke="none" fill-opacity="0.85" x="4.42" y="-0.03" font-size="7.16" font-style="oblique">'</tspan><tspan x="6.96" y="-0.03">(600</tspan><tspan x="23.42" y="-0.03" font-style="oblique">V</tspan><tspan x="28.32" y="-0.03">),</tspan><tspan x="35.67" y="-0.03" font-style="oblique">p</tspan><tspan x="42.49" y="-0.03">=</tspan><tspan x="50.77" y="-0.03">0.211</tspan></text></g>
<line x1="379.23" y1="44.13" x2="393.55" y2="44.13" stroke="#d62728" stroke-width="1.19" stroke-dasharray="4.42 1.91"/>
<g transform="translate(399.25 46.36) rotate(0.05)"><text font-size="7.16"><tspan x="0.00" y="-0.03" font-style="oblique">k</tspan><tspan x="4.15" y="2.18" font-size="5.01" font-style="oblique" stroke-width="0.22">s</tspan><tspan stroke="none" fill-opacity="0.85" x="4.42" y="-0.03" font-size="7.16" font-style="oblique">'</tspan><tspan x="6.96" y="-0.03">(600</tspan><tspan x="23.42" y="-0.03" font-style="oblique">V</tspan><tspan x="28.32" y="-0.03">),</tspan><tspan x="35.67" y="-0.03" font-style="oblique">p</tspan><tspan x="42.49" y="-0.03">=</tspan><tspan x="50.77" y="-0.03">0.152</tspan></text></g>
<line x1="379.23" y1="55.78" x2="393.55" y2="55.78" stroke="#9467bd" stroke-width="1.19" stroke-dasharray="4.42 1.91"/>
<g transform="translate(399.25 58.03) rotate(0.05)"><text font-size="7.16"><tspan x="0.00" y="-0.03" font-style="oblique">k</tspan><tspan x="4.15" y="2.18" font-size="5.01" font-style="oblique" stroke-width="0.22">s</tspan><tspan stroke="none" fill-opacity="0.85" x="4.42" y="-0.03" font-size="7.16" font-style="oblique">'</tspan><tspan x="6.96" y="-0.03">(600</tspan><tspan x="23.42" y="-0.03" font-style="oblique">V</tspan><tspan x="28.32" y="-0.03">),</tspan><tspan x="35.67" y="-0.03" font-style="oblique">p</tspan><tspan x="42.49" y="-0.03">=</tspan><tspan x="50.77" y="-0.03">0.186</tspan></text></g>
<line x1="386.39" y1="63.93" x2="386.39" y2="70.33" stroke="#1f77b4" stroke-width="1.19"/>
<path d="M383.99 64.73l4.80 4.80m0 -4.80l-4.80 4.80" stroke="#1f77b4" stroke-width="1.05" fill="none"/>
<g transform="translate(399.25 69.53) rotate(0.05)"><text font-size="7.16"><tspan x="0.00" y="-0.12" font-style="oblique">k</tspan><tspan x="4.15" y="1.30" font-size="5.01" font-style="oblique" stroke-width="0.22">s</tspan><tspan x="6.76" y="1.30" font-size="5.01" stroke-width="0.22">,</tspan><tspan x="9.33" y="1.30" font-size="5.01" font-style="oblique" stroke-width="0.22">abs</tspan><tspan x="18.39" y="-0.12">(600</tspan><tspan x="34.86" y="-0.12" font-style="oblique">V</tspan><tspan x="39.76" y="-0.12">)</tspan></text></g>
<text transform="translate(510.80 275.55) rotate(0.05)" font-size="13.60" font-weight="bold" font-family="Liberation Sans, sans-serif" text-anchor="middle" stroke="none">b</text>
</svg>
</body></html>
